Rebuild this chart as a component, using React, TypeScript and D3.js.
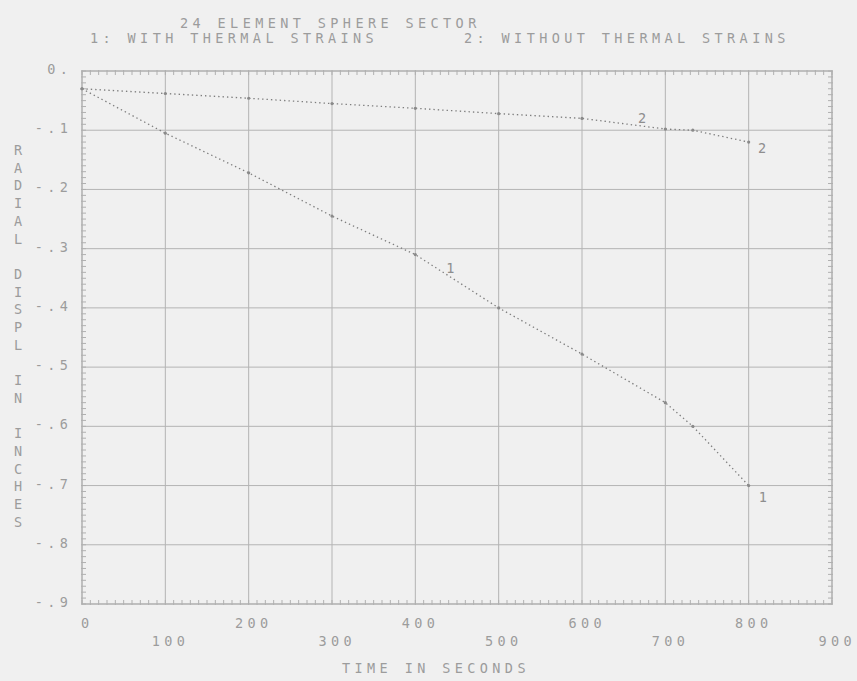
import React from "react";
import * as d3 from "d3";

// Axis ticks and labels
const timeTicks = [0, 100, 200, 300, 400, 500, 600, 700, 800, 900];
const dispTicks = [0, -0.1, -0.2, -0.3, -0.4, -0.5, -0.6, -0.7, -0.8, -0.9];
const dispTickLabels = ["0.", "-.1", "-.2", "-.3", "-.4", "-.5", "-.6", "-.7", "-.8", "-.9"];

// Curve 1: with thermal strains
const withThermalTime = [0, 100, 200, 300, 400, 500, 600, 700, 733, 800];
const withThermalDisp = [-0.03, -0.105, -0.172, -0.245, -0.31, -0.4, -0.478, -0.56, -0.6, -0.7];

// Curve 2: without thermal strains
const withoutThermalTime = [0, 100, 200, 300, 400, 500, 600, 700, 733, 800];
const withoutThermalDisp = [-0.03, -0.038, -0.046, -0.055, -0.063, -0.072, -0.08, -0.098, -0.1, -0.12];

// Curve identifiers written next to the lines
const curveTagText = ["1", "1", "2", "2"];
const curveTagTime = [442, 817, 672, 816];
const curveTagDisp = [-0.332, -0.72, -0.08, -0.13];

const titleText = "24 ELEMENT SPHERE SECTOR";
const legendText1 = "1: WITH THERMAL STRAINS";
const legendText2 = "2: WITHOUT THERMAL STRAINS";
const xTitle = "TIME IN SECONDS";
const yTitle = "RADIAL DISPL IN INCHES";

const W = 857;
const H = 681;
const FONT = "'DejaVu Sans Mono', 'Liberation Mono', monospace";
const TEXT_FILL = "#9c9c9c";
const LS = 4.4;

export default function App() {
  const x = d3.scaleLinear().domain([0, 900]).range([82, 832]);
  const y = d3.scaleLinear().domain([0, -0.9]).range([71, 604]);

  const line = d3
    .line<[number, number]>()
    .x((d) => x(d[0]))
    .y((d) => y(d[1]));

  const c1 = withThermalTime.map((t, i) => [t, withThermalDisp[i]] as [number, number]);
  const c2 = withoutThermalTime.map((t, i) => [t, withoutThermalDisp[i]] as [number, number]);

  const minorX = d3.range(0, 901, 10);
  const minorY = d3.range(0, 91).map((i) => -i / 100);

  const txt = {
    fontFamily: FONT,
    fontSize: 13.5,
    letterSpacing: LS,
    fill: TEXT_FILL,
  } as React.CSSProperties;

  return (
    <svg
      width={W}
      height={H}
      style={{ position: "absolute", left: 0, top: 0, display: "block" }}
    >
      <rect x={0} y={0} width={W} height={H} fill="#f0f0f0" />

      {/* titles */}
      <text x={180} y={28} style={txt}>{titleText}</text>
      <text x={90} y={43} style={txt}>{legendText1}</text>
      <text x={464} y={43} style={txt}>{legendText2}</text>

      {/* grid */}
      {timeTicks.map((t) => (
        <line key={"gx" + t} x1={x(t)} x2={x(t)} y1={y(0)} y2={y(-0.9)} stroke="#b4b4b4" strokeWidth={1} />
      ))}
      {dispTicks.map((v) => (
        <line key={"gy" + v} x1={x(0)} x2={x(900)} y1={y(v)} y2={y(v)} stroke="#b4b4b4" strokeWidth={1} />
      ))}

      {/* frame with ruler ticks */}
      <rect x={x(0)} y={y(0)} width={x(900) - x(0)} height={y(-0.9) - y(0)} fill="none" stroke="#ababab" strokeWidth={1} />
      {minorX.map((t) => (
        <g key={"mx" + t} stroke="#b0b0b0" strokeWidth={1}>
          <line x1={x(t)} x2={x(t)} y1={y(0) - 1} y2={y(0) + 4} />
          <line x1={x(t)} x2={x(t)} y1={y(-0.9) - 4} y2={y(-0.9) + 1} />
        </g>
      ))}
      {minorY.map((v) => (
        <g key={"my" + v} stroke="#b0b0b0" strokeWidth={1}>
          <line x1={x(0) - 1} x2={x(0) + 4} y1={y(v)} y2={y(v)} />
          <line x1={x(900) - 4} x2={x(900) + 1} y1={y(v)} y2={y(v)} />
        </g>
      ))}

      {/* curves */}
      <path d={line(c1) || ""} fill="none" stroke="#7e7e7e" strokeWidth={1.3} strokeDasharray="1.4 3" />
      <path d={line(c2) || ""} fill="none" stroke="#7e7e7e" strokeWidth={1.3} strokeDasharray="1.4 3" />
      {[...c1, ...c2].map((d, i) => (
        <circle key={"pt" + i} cx={x(d[0])} cy={y(d[1])} r={1.6} fill="#8a8a8a" />
      ))}

      {/* curve tags */}
      {curveTagText.map((s, i) => (
        <text key={"tag" + i} x={x(curveTagTime[i])} y={y(curveTagDisp[i])} textAnchor="middle" dominantBaseline="central" style={{ ...txt, letterSpacing: 0, fill: "#8e8e8e" }}>
          {s}
        </text>
      ))}

      {/* y tick labels */}
      {dispTicks.map((v, i) => (
        <text key={"yl" + v} x={68 + LS} y={y(v) - 2} textAnchor="end" dominantBaseline="central" style={txt}>
          {dispTickLabels[i]}
        </text>
      ))}

      {/* x tick labels, staggered */}
      {timeTicks.map((t, i) => (
        <text key={"xl" + t} x={x(t) + 3 + LS / 2} y={i % 2 === 0 ? 623 : 641} textAnchor="middle" dominantBaseline="central" style={txt}>
          {String(t)}
        </text>
      ))}

      {/* axis titles */}
      <text x={342} y={673} style={txt}>{xTitle}</text>
      {yTitle.split("").map((ch, i) =>
        ch === " " ? null : (
          <text key={"yt" + i} x={18} y={150 + i * 17.7} textAnchor="middle" dominantBaseline="central" style={{ ...txt, letterSpacing: 0 }}>
            {ch}
          </text>
        )
      )}
    </svg>
  );
}
